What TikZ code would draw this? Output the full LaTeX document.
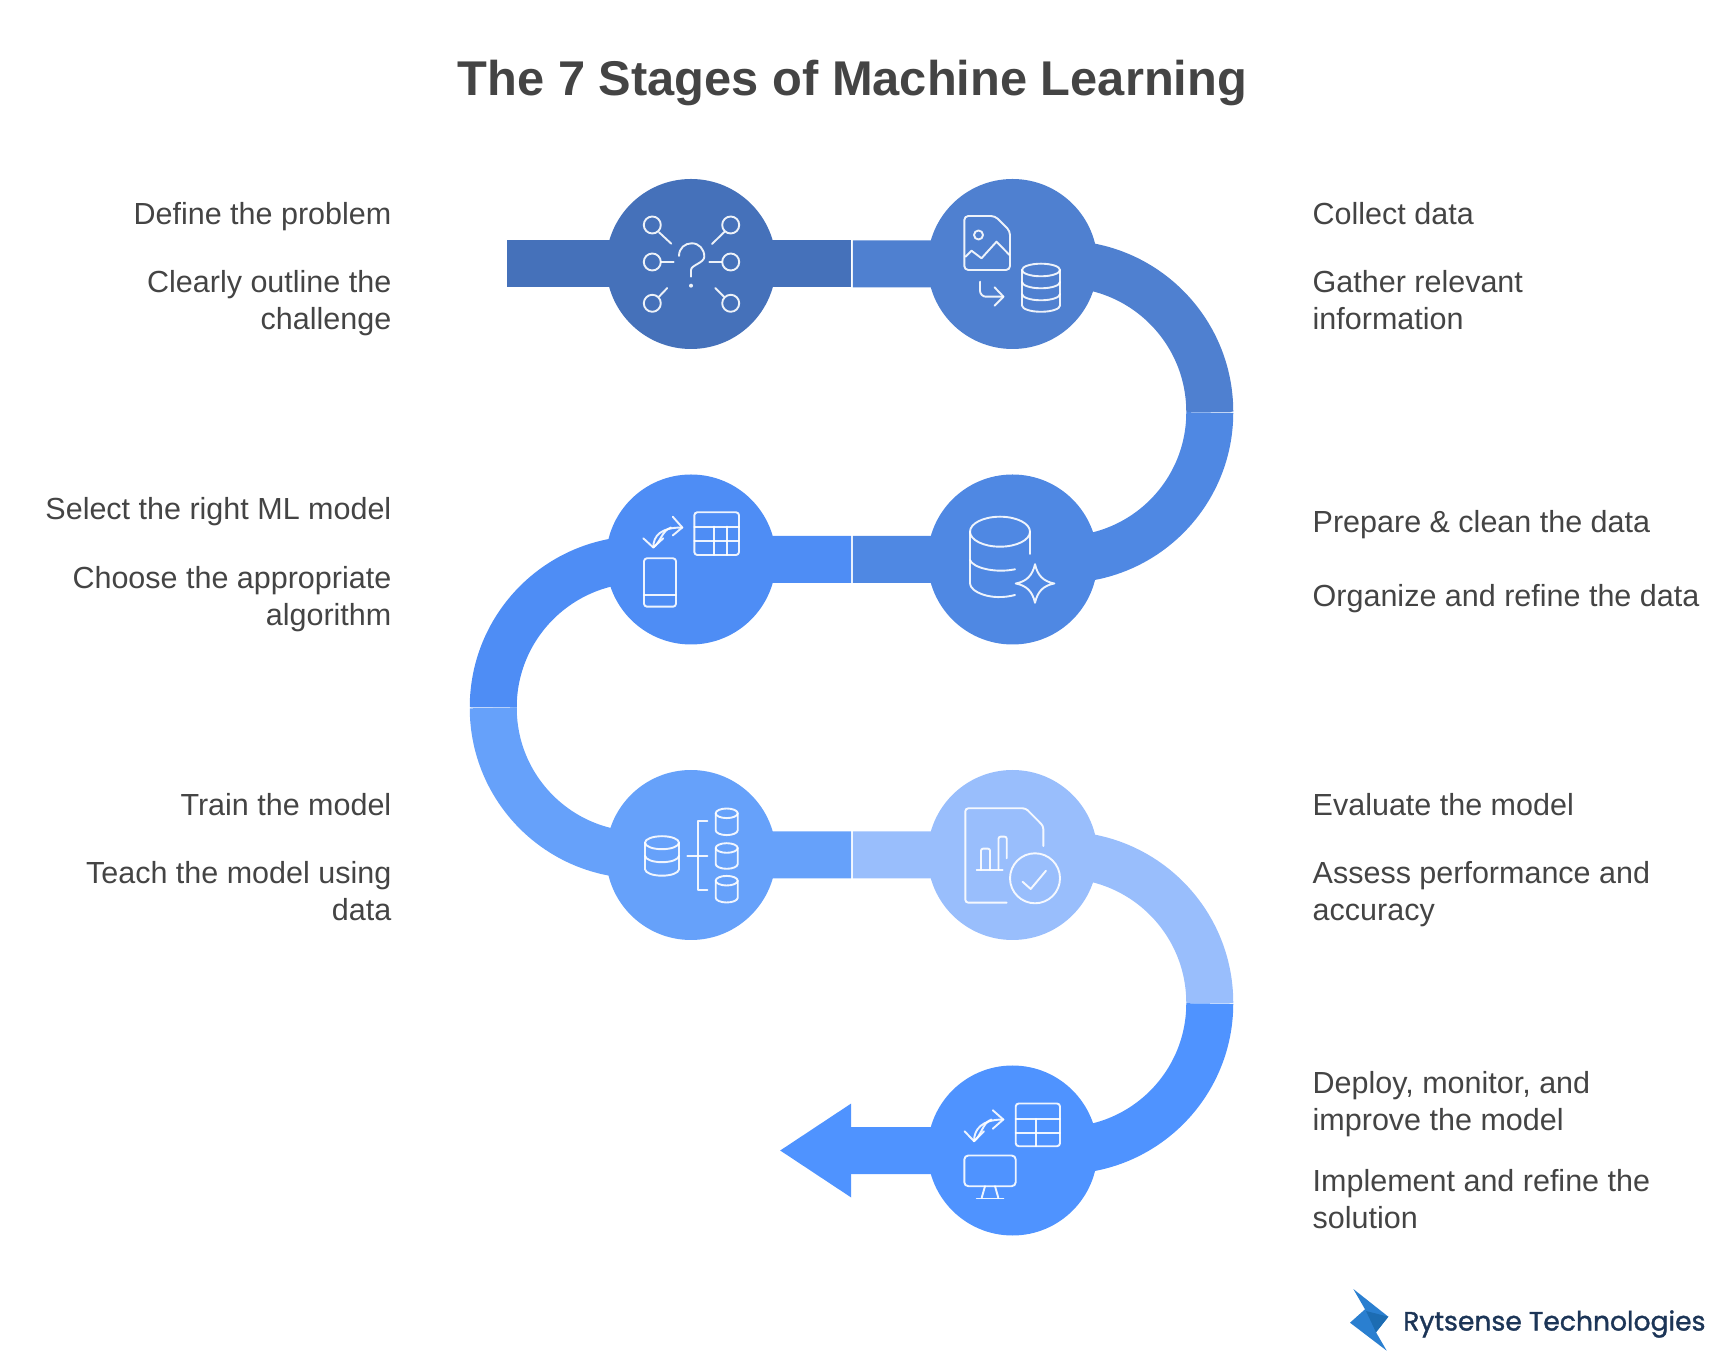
\documentclass[tikz,border=0pt]{standalone}
\usepackage{fontspec}
\setmainfont{Liberation Sans}
\newfontfamily\logofont[FakeBold=1.3]{Poppins}
\usetikzlibrary{arrows.meta}

\definecolor{stageA}{HTML}{4571BA}
\definecolor{stageB}{HTML}{4F80D0}
\definecolor{stageC}{HTML}{4F88E3}
\definecolor{stageD}{HTML}{4E8DF5}
\definecolor{stageE}{HTML}{66A1FA}
\definecolor{stageF}{HTML}{99BEFC}
\definecolor{stageG}{HTML}{4F93FF}
\definecolor{txt}{HTML}{444444}
\definecolor{logoblue}{HTML}{2A7FD0}
\definecolor{logodark}{HTML}{1C6CB2}

% cx, cy, rx, ry, height, extra tiers
\newcommand{\dbstack}[6]{
  \draw[icon] (#1,#2) ellipse (#3 and #4);
  \draw[icon] (#1-#3,#2) -- ++(0,-#5) arc (180:360:#3 and #4) -- ++(0,#5);
  \foreach \t in {#6}
    \draw[icon] (#1-#3,#2-\t) arc (180:360:#3 and #4);
}

\begin{document}
\begin{tikzpicture}[x=1pt,y=1pt]
  \tikzset{stage/.style = {shape=circle,minimum size=170pt,inner sep=0pt}}
  \tikzset{band/.style = {line width=47pt}}
  \tikzset{icon/.style = {draw=white,line width=1.9pt,opacity=.9,line cap=round,line join=round}}
  \tikzset{leftlabel/.style = {anchor=east,align=right,text=txt,font=\fontsize{30.5}{37}\selectfont,text height=22pt,text depth=6pt,inner sep=0pt}}
  \tikzset{rightlabel/.style = {anchor=west,align=left,text=txt,font=\fontsize{30.5}{37}\selectfont,text height=22pt,text depth=6pt,inner sep=0pt}}

  \useasboundingbox (0,0) rectangle (1728,1368);

  \node[text=txt,font=\fontsize{48.8}{60}\selectfont\bfseries] (title) at (852.5,1284.5) {The 7 Stages of Machine Learning};

  % ends and joints of the ribbon
  \coordinate (start) at (507,1104);
  \coordinate (j1a) at (851,1104);
  \coordinate (j1b) at (852.8,1104);
  \coordinate (b2) at (1062,1104);
  \coordinate (j2a) at (1209.75,957);
  \coordinate (j2b) at (1209.75,955.5);
  \coordinate (b3) at (1062,808.5);
  \coordinate (j3a) at (852.8,808.5);
  \coordinate (j3b) at (851,808.5);
  \coordinate (b4) at (641,808.5);
  \coordinate (j4a) at (493.25,661.5);
  \coordinate (j4b) at (493.25,660);
  \coordinate (b5) at (641,513);
  \coordinate (j5a) at (851,513);
  \coordinate (j5b) at (852.8,513);
  \coordinate (b6) at (1062,513);
  \coordinate (j6a) at (1209.75,366);
  \coordinate (j6b) at (1209.75,364.5);
  \coordinate (b7) at (1062,217.5);
  \coordinate (neck) at (850.7,217.5);

  \draw[band,stageA] (start) -- (j1a);
  \draw[band,stageB] (j1b) -- (b2) arc (90:0:147.75) -- (j2a);
  \draw[band,stageC] (j2b) arc (0:-90:147) -- (b3) -- (j3a);
  \draw[band,stageD] (j3b) -- (b4) arc (90:180:147.75) -- (j4a);
  \draw[band,stageE] (j4b) arc (180:270:147) -- (b5) -- (j5a);
  \draw[band,stageF] (j5b) -- (b6) arc (90:0:147.75) -- (j6a);
  \draw[band,stageG] (j6b) arc (0:-90:147) -- (b7) -- (neck);
  \fill[stageG] (neck) ++(0.5,47) -- ++(-71,-47) -- ++(71,-47) -- cycle;

  \node[stage,fill=stageA] (S1) at (691,1104) {};
  \node[stage,fill=stageB] (S2) at (1012.5,1104) {};
  \node[stage,fill=stageC] (S3) at (1012.5,808.5) {};
  \node[stage,fill=stageD] (S4) at (691,808.5) {};
  \node[stage,fill=stageE] (S5) at (691,513) {};
  \node[stage,fill=stageF] (S6) at (1012.5,513) {};
  \node[stage,fill=stageG] (S7) at (1012.5,217.5) {};

  % define the problem
  \begin{scope}[shift={(S1.center)}]
    \foreach \x/\y in {-38.7/39, 39.7/39, -38.7/2, 39.7/2, -38.7/-39.3, 39.7/-39.3}
      \draw[icon] (\x,\y) circle (8.5);
    \foreach \a/\b/\c/\d in {-32/31.7/-19.7/20.3, 33.3/32/21/20, -30/2.3/-17.3/2.3, 18.3/2.3/30.7/2.3, -32/-32.7/-23.7/-24, 33/-32.7/24.3/-24}
      \draw[icon] (\a,\b) -- (\c,\d);
    \draw[icon] (-12,8) .. controls (-12,16) and (-6,20.7) .. (0.7,20.7) .. controls (8,20.7) and (13.3,15) .. (13.3,7.3) .. controls (13.3,1) and (0,-1) .. (0,-6) -- (0,-12.7);
    \fill[white,opacity=.9] (0,-21.7) circle (2);
  \end{scope}

  % collect data
  \begin{scope}[shift={(S2.center)}]
    \draw[icon,rounded corners=4pt] (-48.2,48) -- (-17.5,48) -- (-2.5,33) -- (-2.5,-6) -- (-48.2,-6) -- cycle;
    \draw[icon] (-47,7.3) -- (-41,13.3) -- (-31,5.7) -- (-16,22.3) -- (-3,9);
    \draw[icon] (-34,29) circle (4.5);
    \draw[icon,rounded corners=6pt] (-32.5,-17.7) -- (-32.5,-32.7) -- (-9,-32.7);
    \draw[icon] (-18,-23.3) -- (-9,-32.7) -- (-18,-41.7);
    \dbstack{28.5}{-6}{19}{6.3}{35.5}{12,24}
  \end{scope}

  % prepare and clean
  \begin{scope}[shift={(S3.center)}]
    \draw[icon] (-12.5,27.8) ellipse (30 and 15);
    \draw[icon] (17.5,27.8) -- (17.5,5.5);
    \draw[icon] (-42.5,27.8) -- (-42.5,-24) .. controls (-42.5,-32) and (-22,-42) .. (2.5,-35.5);
    \draw[icon] (-42.5,-0.5) .. controls (-40,-8) and (-18,-14) .. (2.5,-9.8);
    \draw[icon] (22.5,-4.7) .. controls (25,-16) and (31,-22) .. (41.8,-24) .. controls (31,-26) and (25,-32) .. (22.5,-43.3) .. controls (20,-32) and (14,-26) .. (3.2,-24) .. controls (14,-22) and (20,-16) .. cycle;
  \end{scope}

  % select the model
  \begin{scope}[shift={(S4.center)}]
    \draw[icon,rounded corners=3pt] (3.3,4.5) rectangle (48,47.2);
    \draw[icon] (3.3,32.8) -- (48,32.8);
    \draw[icon] (3.3,18.5) -- (48,18.5);
    \draw[icon] (23.3,32.8) -- (23.3,4.5);
    \draw[icon] (35.7,32.8) -- (35.7,4.5);
    \draw[icon,rounded corners=3pt] (-47,-47.2) rectangle (-15,1.2);
    \draw[icon] (-47,-35.5) -- (-15,-35.5);
    \draw[icon] (-18.3,42.8) -- (-8.7,32) -- (-18.3,24);
    \draw[icon] (-47.7,21.2) -- (-37.7,12) -- (-27.7,21.2);
    \draw[icon] (-37.7,12) .. controls (-37.7,24) and (-30,32) .. (-8.7,32);
    \draw[icon] (-37.7,12) .. controls (-30,18) and (-29,29) .. (-20,32);
  \end{scope}

  % train the model
  \begin{scope}[shift={(S5.center)}]
    \dbstack{-29}{12.3}{17}{6.5}{26.5}{13}
    \draw[icon] (-3.7,-0.7) -- (16.3,-0.7);
    \draw[icon] (16.3,33.7) -- (7,33.7) -- (7,-35) -- (16.3,-35);
    \dbstack{35.7}{41.7}{11}{4.8}{17}{}
    \dbstack{35.7}{7}{11}{4.8}{16}{}
    \dbstack{35.7}{-25.7}{11}{4.8}{17}{}
  \end{scope}

  % evaluate the model
  \begin{scope}[shift={(S6.center)}]
    \draw[icon,rounded corners=3pt] (30.8,9) -- (30.8,29) -- (13.2,46.7) -- (-47.2,46.7) -- (-47.2,-47.7) -- (-5.8,-47.7);
    \draw[icon] (-35.8,-15) -- (-9.8,-15);
    \draw[icon,rounded corners=2pt] (-31.5,-15) -- (-31.5,6.3) -- (-22.5,6.3) -- (-22.5,-15);
    \draw[icon,rounded corners=2pt] (-14,-15) -- (-14,18.3) -- (-5.8,18.3) -- (-5.8,-3.3);
    \draw[icon] (22.5,-23.3) circle (25);
    \draw[icon] (10,-26.7) -- (18.2,-34) -- (33.5,-15.7);
  \end{scope}

  % deploy and monitor
  \begin{scope}[shift={(S7.center)}]
    \draw[icon,rounded corners=3pt] (3.2,4.3) rectangle (47.5,47);
    \draw[icon] (3.2,31.7) -- (47.5,31.7);
    \draw[icon] (3.2,17.7) -- (47.5,17.7);
    \draw[icon] (23.2,31.7) -- (23.2,4.3);
    \draw[icon] (-19.8,40.3) -- (-9.2,31) -- (-19.8,21.7);
    \draw[icon] (-48,19.3) -- (-38.5,9.3) -- (-28.5,19.3);
    \draw[icon] (-38.5,9.3) .. controls (-38.5,21) and (-31,31) .. (-9.2,31);
    \draw[icon] (-38.5,9.3) .. controls (-31,15) and (-30,28) .. (-21,31);
    \draw[icon,rounded corners=4pt] (-48.2,-35.7) rectangle (3.2,-5);
    \draw[icon] (-27.5,-35.7) -- (-30.8,-47.3);
    \draw[icon] (-17.5,-35.7) -- (-14.2,-47.3);
    \draw[icon] (-35.8,-48) -- (-9.2,-48);
  \end{scope}

  \node[leftlabel] (L1) at (391.5,1151) {Define the problem};
  \node[leftlabel] (L1d) at (391.5,1046) {Clearly outline the\\challenge};
  \node[leftlabel] (L2) at (391.5,856) {Select the right ML model};
  \node[leftlabel] (L2d) at (391.5,750) {Choose the appropriate\\algorithm};
  \node[leftlabel] (L3) at (391.5,560) {Train the model};
  \node[leftlabel] (L3d) at (391.5,455) {Teach the model using\\data};

  \node[rightlabel] (R1) at (1312.5,1151) {Collect data};
  \node[rightlabel] (R1d) at (1312.5,1046) {Gather relevant\\information};
  \node[rightlabel] (R2) at (1312.5,843) {Prepare \& clean the data};
  \node[rightlabel] (R2d) at (1312.5,769) {Organize and refine the data};
  \node[rightlabel] (R3) at (1312.5,560) {Evaluate the model};
  \node[rightlabel] (R3d) at (1312.5,455) {Assess performance and\\accuracy};
  \node[rightlabel] (R4) at (1312.5,245.5) {Deploy, monitor, and\\improve the model};
  \node[rightlabel] (R4d) at (1312.5,147.4) {Implement and refine the\\solution};

  % logo
  \fill[logoblue] (1353.3,79) -- (1388.3,51.3) -- (1376,35.7) -- (1386.7,17.3) -- (1350,45.3) -- (1365,58.7) -- cycle;
  \fill[logodark] (1366,57) -- (1388.3,51.3) -- (1376,35.7) -- cycle;
  \node[anchor=west,inner sep=0pt,text={rgb,255:red,28;green,53;blue,87},font=\fontsize{26.6}{30}\logofont] (logo) at (1403,44) {Rytsense Technologies};
\end{tikzpicture}
\end{document}
